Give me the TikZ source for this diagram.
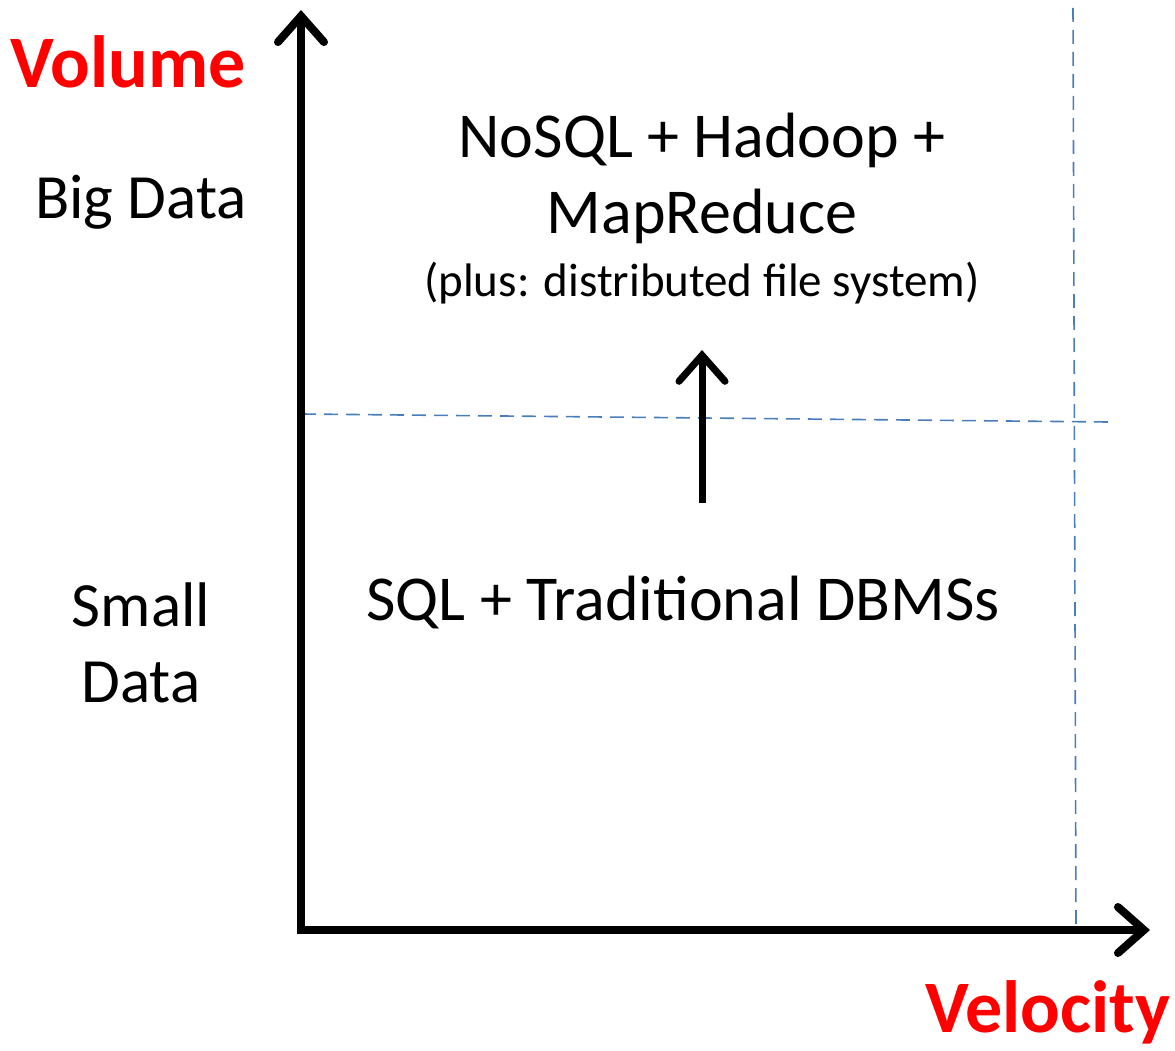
\documentclass[tikz,border=0pt]{standalone}
\usepackage{fontspec}
\setmainfont{Carlito}
\usetikzlibrary{arrows.meta}

\definecolor{dashblue}{HTML}{4A7EBB}
\tikzset{
  axislabel/.style={text=red,font=\fontsize{74}{80}\selectfont\bfseries},
  sidelabel/.style={font=\fontsize{63}{76}\selectfont,align=center},
  techlabel/.style={font=\fontsize{64}{76}\selectfont,align=center},
  guide/.style={dashblue,line width=1.6pt,dash pattern=on 14pt off 8pt},
}

\begin{document}
\begin{tikzpicture}[x=1pt,y=-1pt,>={Straight Barb[length=26pt,width=46pt,line cap=round]}]
	\useasboundingbox (0,0) rectangle (1175,1051);
	
	\coordinate (origin) at (301,930);
	\coordinate (ytop) at (301,10);
	\coordinate (xend) at (1150,930);
	
	\draw[guide] (302,414) -- (1108,422);
	\draw[guide] (1073,8) -- (1076,926);
	
	\draw[line width=8pt,->] (origin) -- (ytop);
	\draw[line width=8pt,->] ([xshift=-4pt]origin) -- (xend);
	
	\node[axislabel] (vol) at (128,62) {Volume};
	\node[axislabel] (vel) at (1048,1012) {Velocity};
	
	\node[sidelabel] (big) at (141,202) {Big Data};
	\node[sidelabel] (small) at (141,643) {Small\\Data};
	
	\node[techlabel] (nosql) at (702,178) {NoSQL + Hadoop +\\MapReduce};
	\node[font=\fontsize{47}{52}\selectfont] (plus) at (702,283) {(plus: distributed file system)};
	\node[techlabel] (sql) at (683,603) {SQL + Traditional DBMSs};
	
	\draw[line width=7pt,->] (702,503) -- (plus.south |- 0,350);
\end{tikzpicture}
\end{document}
